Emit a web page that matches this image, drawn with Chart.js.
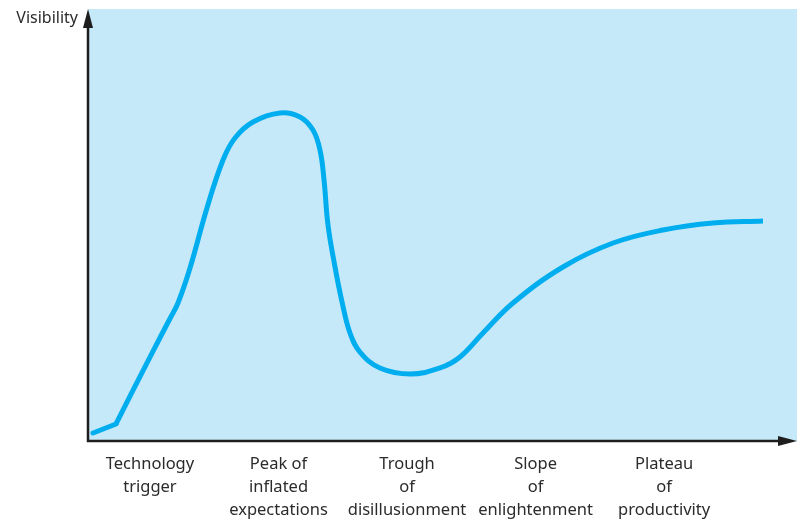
<!DOCTYPE html>
<html>
<head>
<meta charset="utf-8">
<script src="https://cdn.jsdelivr.net/npm/chart.js@4"></script>
<style>
  html, body { margin: 0; padding: 0; background: #fff; }
  #wrap { width: 797px; height: 521px; }
</style>
</head>
<body>
<div id="wrap"><canvas id="hype"></canvas></div>
<script>
// Hype-cycle curve (x: 0-100 time, y: 0-100 visibility)
// the straight lead-in up to the trigger kink
const leadX = [0.71, 3.95];
const leadY = [1.85, 3.94];
// the smooth curve from the kink onwards
const curveX = [3.95, 8.74, 11.57, 12.69, 14.39, 16.78, 19.04, 20.73, 23.27, 27.08, 29.90, 31.73, 32.72, 33.29, 33.85, 34.84, 35.83, 36.95, 38.36, 41.18, 45.42, 49.65, 52.47, 55.71, 59.94, 66.99, 74.05, 81.10, 88.15, 95.20];
const curveY = [3.94, 19.44, 28.36, 31.94, 40.05, 53.94, 65.05, 70.14, 73.84, 75.93, 75.0, 71.99, 67.36, 60.42, 50.0, 40.28, 32.18, 25.0, 20.60, 16.90, 15.51, 16.90, 19.44, 25.0, 31.94, 40.28, 45.83, 48.84, 50.46, 50.93];

// Phase labels under the x axis
const phaseAt = [8.74, 26.87, 45.0, 63.13, 81.26];
const phaseLabels = [
  ['Technology', 'trigger'],
  ['Peak of', 'inflated', 'expectations'],
  ['Trough', 'of', 'disillusionment'],
  ['Slope', 'of', 'enlightenment'],
  ['Plateau', 'of', 'productivity'],
];
const yTitle = 'Visibility';

const FONT = '"Noto Sans", sans-serif';
const INK = '#2b2b2b';
const CURVE = '#00aeef';

const axesPlugin = {
  id: 'hypeAxes',
  beforeDraw(chart) {
    const { ctx, chartArea: a } = chart;
    ctx.save();
    ctx.fillStyle = '#c6e9f9';
    ctx.fillRect(a.left, a.top, a.right - a.left, a.bottom - a.top);
    ctx.restore();
  },
  afterDraw(chart) {
    const { ctx, chartArea: a } = chart;
    ctx.save();
    ctx.strokeStyle = '#1e1e1e';
    ctx.fillStyle = '#1e1e1e';
    ctx.lineWidth = 2.5;
    // axes lines
    ctx.beginPath();
    ctx.moveTo(a.left, a.top + 14);
    ctx.lineTo(a.left, a.bottom);
    ctx.lineTo(a.right - 14, a.bottom);
    ctx.stroke();
    // arrow heads
    ctx.beginPath();
    ctx.moveTo(a.left, a.top);
    ctx.lineTo(a.left - 5, a.top + 19);
    ctx.lineTo(a.left + 5, a.top + 19);
    ctx.closePath();
    ctx.fill();
    ctx.beginPath();
    ctx.moveTo(a.right, a.bottom);
    ctx.lineTo(a.right - 19, a.bottom - 5);
    ctx.lineTo(a.right - 19, a.bottom + 5);
    ctx.closePath();
    ctx.fill();
    // y title
    ctx.fillStyle = INK;
    ctx.font = '16px ' + FONT;
    ctx.textAlign = 'right';
    ctx.textBaseline = 'middle';
    ctx.fillText(yTitle, a.left - 10, a.top + 9);
    ctx.restore();
  },
};

const toPoints = (xs, ys) => xs.map((x, i) => ({ x, y: ys[i] }));

new Chart(document.getElementById('hype'), {
  type: 'line',
  data: {
    datasets: [
      {
        data: toPoints(leadX, leadY),
        borderColor: CURVE,
        borderWidth: 5,
        borderCapStyle: 'round',
        pointRadius: 0,
        tension: 0,
        fill: false,
      },
      {
        data: toPoints(curveX, curveY),
        borderColor: CURVE,
        borderWidth: 5,
        pointRadius: 0,
        tension: 0.4,
        fill: false,
      },
    ],
  },
  options: {
    responsive: true,
    maintainAspectRatio: false,
    animation: false,
    layout: { padding: { top: 9, right: 0, left: 0, bottom: 0 } },
    plugins: { legend: { display: false }, tooltip: { enabled: false } },
    scales: {
      x: {
        type: 'linear',
        min: 0,
        max: 100,
        afterBuildTicks: (s) => { s.ticks = phaseAt.map(v => ({ value: v })); },
        afterFit: (s) => { s.height = 80; },
        ticks: {
          autoSkip: false,
          maxRotation: 0,
          padding: 4,
          color: INK,
          font: { family: FONT, size: 16.5, lineHeight: 1.4 },
          callback: (v, i) => phaseLabels[i],
        },
        grid: { display: false },
        border: { display: false },
      },
      y: {
        min: 0,
        max: 100,
        afterFit: (s) => { s.width = 88; },
        ticks: { display: false },
        grid: { display: false },
        border: { display: false },
      },
    },
  },
  plugins: [axesPlugin],
});
</script>
</body>
</html>
